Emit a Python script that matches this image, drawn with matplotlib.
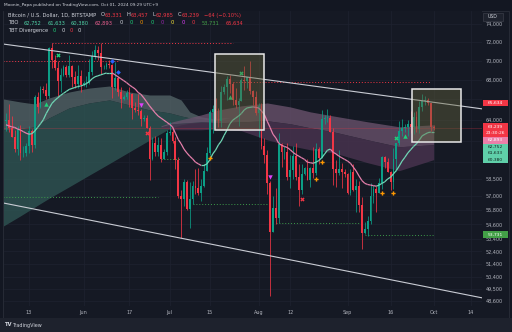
import numpy as np
import pandas as pd
import matplotlib
matplotlib.use("Agg")
import matplotlib.pyplot as plt
import matplotlib.dates as mdates
from matplotlib.collections import LineCollection
from matplotlib.patches import Rectangle
from matplotlib.ticker import FixedLocator, NullLocator, FuncFormatter

plt.rcParams['font.family'] = ['DejaVu Sans']

# ---------------- data (prices in thousands of USD) ----------------
K = 1000.0
dates = pd.date_range("2024-05-05", "2024-10-01", freq="D")

opens_k = [
    63.9, 64.0, 63.2, 62.3, 61.2, 63.1, 60.8, 60.8, 61.5, 62.9, 61.6, 66.2, 65.2, 67.0, 66.9, 66.3, 71.4, 70.1, 69.2, 67.9, 68.5, 69.3, 68.5, 69.4, 68.3, 67.6, 68.4,
    67.5, 67.7, 67.7, 68.8, 70.5, 71.1, 70.8, 69.3, 69.3, 69.6, 69.5, 67.3, 68.2, 66.7, 66.0, 66.2, 66.6, 66.5, 65.1, 64.9, 64.8, 64.1, 64.2, 63.2, 60.3, 61.8, 60.9, 61.6, 60.3, 60.9,
    62.7, 62.8, 62.0, 60.2, 57.0, 56.7, 58.2, 55.9, 56.7, 57.9, 57.7, 57.3, 57.9, 59.2, 60.8, 64.7, 65.0, 64.1, 63.9, 66.7, 67.2, 68.1, 67.6, 65.9, 65.4, 65.8, 68.0, 67.9, 68.3, 66.8, 66.2,
    64.6, 65.3, 61.5, 60.7, 58.1, 54.0, 56.0, 55.1, 61.7, 60.9, 60.9, 58.7, 59.3, 60.6, 58.7, 57.5, 58.9, 59.5, 58.4, 59.5, 59.0, 61.2, 60.4, 64.1, 64.2, 64.2, 62.8, 59.4, 59.0, 59.4, 59.1,
    58.9, 57.3, 59.1, 57.5, 57.9, 56.2, 53.9, 54.2, 54.9, 57.0, 57.6, 57.3, 58.1, 60.5, 60.0, 59.1, 58.2, 60.3, 61.8, 62.9, 63.2, 63.3, 63.6, 63.3, 64.3, 63.1, 65.2, 65.8, 65.9, 65.6,
    63.331]
highs_k = [
    64.6, 65.5, 64.4, 63.0, 63.4, 63.5, 61.5, 61.8, 63.4, 63.1, 66.4, 66.7, 67.4, 67.4, 67.7, 71.5, 71.9, 70.6, 70.0, 69.2, 69.5, 69.5, 70.6, 69.5, 68.9, 69.5, 69.0,
    67.9, 68.4, 70.2, 71.0, 71.7, 71.6, 71.9, 69.5, 69.9, 70.1, 69.6, 69.9, 68.4, 67.3, 66.4, 66.9, 67.2, 66.6, 65.7, 66.5, 65.0, 64.5, 64.5, 63.4, 62.3, 62.4, 62.3, 62.2, 61.2, 63.0,
    63.8, 63.2, 62.3, 60.5, 57.5, 58.5, 58.4, 58.2, 58.3, 59.4, 59.5, 58.5, 59.8, 61.4, 64.9, 65.4, 66.1, 65.1, 67.4, 67.6, 68.4, 68.5, 67.8, 67.1, 66.1, 68.2, 69.4, 68.3, 70.0, 66.9, 66.8,
    65.6, 65.6, 62.2, 61.1, 58.3, 57.0, 57.7, 62.7, 61.8, 61.5, 61.8, 60.7, 61.5, 61.8, 59.8, 59.8, 59.6, 60.3, 59.6, 61.4, 61.8, 61.4, 64.9, 64.5, 65.0, 64.5, 63.2, 60.2, 61.1, 59.9, 59.4,
    59.0, 59.4, 59.8, 58.5, 58.3, 56.9, 54.8, 55.3, 58.1, 58.0, 57.9, 58.6, 60.6, 60.6, 60.4, 59.2, 61.3, 61.8, 63.9, 64.1, 63.6, 64.0, 64.8, 64.7, 64.8, 65.8, 66.5, 66.3, 66.1, 65.6,
    63.457]
lows_k = [
    62.9, 62.8, 62.3, 60.9, 60.7, 60.2, 60.5, 60.6, 60.8, 60.9, 61.3, 64.6, 65.1, 66.6, 66.0, 66.1, 69.2, 69.0, 66.3, 66.7, 68.4, 68.3, 68.3, 67.3, 67.1, 67.1, 66.7,
    67.4, 67.3, 67.6, 68.5, 70.2, 70.1, 68.6, 69.1, 69.1, 69.2, 66.1, 66.9, 66.3, 65.1, 65.9, 66.0, 65.2, 64.1, 64.7, 64.5, 63.4, 63.9, 63.2, 58.4, 60.2, 60.6, 60.6, 60.0, 60.3, 60.7,
    62.5, 61.8, 59.4, 56.8, 53.5, 56.1, 55.8, 54.3, 56.3, 57.2, 57.1, 56.6, 57.8, 59.2, 60.7, 62.7, 64.0, 63.3, 63.3, 66.5, 65.9, 66.6, 65.4, 65.1, 63.4, 65.8, 66.9, 67.1, 66.5, 65.4, 64.5,
    62.3, 61.2, 59.9, 57.2, 49.0, 54.0, 54.6, 54.7, 59.6, 60.3, 58.4, 57.7, 58.5, 58.4, 56.1, 57.2, 58.8, 58.4, 57.8, 58.6, 58.8, 59.8, 60.4, 63.6, 63.8, 62.8, 58.0, 57.8, 58.8, 57.7, 58.7,
    57.2, 57.1, 57.4, 55.6, 55.6, 52.6, 53.8, 53.6, 54.6, 56.4, 55.6, 57.3, 57.6, 59.5, 59.1, 57.5, 57.6, 59.2, 61.6, 62.4, 62.8, 62.4, 62.7, 62.6, 62.8, 62.7, 64.8, 65.4, 65.4, 62.9,
    62.985]
closes_k = [
    64.0, 63.2, 62.3, 61.2, 63.1, 60.8, 60.8, 61.5, 62.9, 61.6, 66.2, 65.2, 67.0, 66.9, 66.3, 71.4, 70.1, 69.2, 67.9, 68.5, 69.3, 68.5, 69.4, 68.3, 67.6, 68.4, 67.5,
    67.7, 67.7, 68.8, 70.5, 71.1, 70.8, 69.3, 69.3, 69.6, 69.5, 67.3, 68.2, 66.7, 66.0, 66.2, 66.6, 66.5, 65.1, 64.9, 64.8, 64.1, 64.2, 63.2, 60.3, 61.8, 60.9, 61.6, 60.3, 60.9, 62.7,
    62.8, 62.0, 60.2, 57.0, 56.7, 58.2, 55.9, 56.7, 57.9, 57.7, 57.3, 57.9, 59.2, 60.8, 64.7, 65.0, 64.1, 63.9, 66.7, 67.2, 68.1, 67.6, 65.9, 65.4, 65.8, 68.0, 67.9, 68.3, 66.8, 66.2, 64.6,
    65.3, 61.5, 60.7, 58.1, 54.0, 56.0, 55.1, 61.7, 60.9, 60.9, 58.7, 59.3, 60.6, 58.7, 57.5, 58.9, 59.5, 58.4, 59.5, 59.0, 61.2, 60.4, 64.1, 64.2, 64.2, 62.8, 59.4, 59.0, 59.4, 59.1, 58.9,
    57.3, 59.1, 57.5, 57.9, 56.2, 53.9, 54.2, 54.9, 57.0, 57.6, 57.3, 58.1, 60.5, 60.0, 59.1, 58.2, 60.3, 61.8, 62.9, 63.2, 63.3, 63.6, 63.3, 64.3, 63.1, 65.2, 65.8, 65.9, 65.6, 63.3,
    63.239]

# TBO fast line (one value per candle)
tbo_fast_k = [
    63.5, 63.4, 63.3, 63.25, 63.1, 63.0, 62.85, 62.7,
    62.6, 62.65, 62.9, 63.25, 63.6, 64.0, 64.6, 65.1, 65.6, 65.9,
    66.15, 66.4, 66.6, 66.8, 67.0, 67.1, 67.2, 67.3, 67.35, 67.45,
    67.6, 67.8, 68.1, 68.3, 68.4, 68.5, 68.6, 68.7, 68.7, 68.7,
    68.5, 68.3, 68.1, 67.9, 67.7, 67.45, 67.25, 67.05, 66.7, 66.5,
    66.15, 65.75, 65.35, 65.0, 64.65, 64.35, 64.15, 63.95, 63.75, 63.55,
    63.3, 62.7, 62.1, 61.7, 61.2, 60.85, 60.55, 60.3, 60.0, 59.85,
    59.7, 59.7, 59.85, 60.2, 60.75, 61.1, 61.6, 61.95, 62.5, 63.0,
    63.6, 63.95, 64.15, 64.35, 64.6, 64.95, 65.15, 65.2, 65.25, 65.2,
    65.15, 64.85, 64.5, 63.85, 63.25, 62.6, 62.25, 61.75, 61.55, 61.45,
    61.35, 61.15, 60.9, 60.7, 60.55, 60.4, 60.25, 60.0, 59.95, 59.9,
    60.0, 60.15, 60.4, 60.75, 61.1, 61.2, 60.9, 60.75, 60.55, 60.4,
    60.25, 60.1, 59.9, 59.55, 59.2, 58.75, 58.35, 58.1, 58.0, 57.95,
    57.9, 57.85, 57.95, 58.1, 58.25, 58.5, 58.65, 58.95, 59.25, 59.65,
    60.1, 60.45, 60.85, 61.15, 61.45, 61.7, 62.05, 62.45, 62.6, 62.75,
    62.8, 62.8]

# TBO cloud (bullish, grey-teal)
bull_dates = ["2024-05-04", "2024-05-10", "2024-05-15", "2024-05-20", "2024-05-27", "2024-06-03", "2024-06-10",
              "2024-06-17", "2024-06-24", "2024-07-01", "2024-07-05", "2024-07-08", "2024-07-12", "2024-07-16",
              "2024-07-22"]
bull_top_k = [66.04, 65.74, 65.54, 66.14, 66.74, 67.14, 67.35, 66.74, 66.44, 66.44, 65.94, 64.76, 64.27, 64.10, 64.20]
bull_mid_k = [63.02, 63.10, 63.30, 64.17, 65.15, 65.64, 65.94, 65.44, 64.95, 64.66, 64.36, 64.17, 64.07, 63.90, 64.20]
bull_bot_k = [54.45, 55.30, 56.05, 56.80, 57.80, 58.83, 59.87, 60.95, 62.04, 63.14, 63.50, 63.65, 63.75, 63.80, 64.20]

# TBO cloud (bearish, mauve)
bear_dates = ["2024-06-28", "2024-07-02", "2024-07-12", "2024-07-18", "2024-07-26", "2024-08-04",
              "2024-08-12", "2024-08-19", "2024-08-27", "2024-09-08", "2024-09-19", "2024-10-01"]
bear_top_k = [63.40, 63.79, 64.46, 64.95, 65.35, 65.64, 65.25, 64.76, 64.36, 63.79, 63.31, 63.50]
bear_mid_k = [63.31, 63.60, 63.79, 63.69, 63.79, 63.89, 63.60, 63.21, 62.83, 62.07, 61.42, 61.61]
bear_bot_k = [63.21, 63.02, 63.02, 63.12, 62.93, 62.07, 61.52, 61.14, 60.87, 59.95, 59.23, 60.23]

# dotted support / resistance levels
level_prices_k = [71.9, 70.0, 67.76, 56.94, 60.32, 56.3, 54.75, 53.731]
level_starts = ["2024-05-21", "2024-05-04", "2024-07-23", "2024-05-04", "2024-06-28", "2024-07-09", "2024-08-07", "2024-09-07"]
level_ends = ["2024-07-23", "2024-06-13", "2024-09-30", "2024-06-27", "2024-07-05", "2024-08-04", "2024-09-05", "2024-10-01"]
level_kinds = ["res", "res", "res", "sup", "sup", "sup", "sup", "sup"]

# drawn channel
channel_dates = ["2024-05-04", "2024-10-18"]
channel_upper_k = [71.78, 65.05]
channel_lower_k = [56.40, 48.83]

# highlighted boxes
box_starts = ["2024-07-16 19:00", "2024-09-23 10:00"]
box_ends = ["2024-08-02 22:00", "2024-10-10 12:00"]
box_tops_k = [70.70, 67.05]
box_bottoms_k = [63.02, 61.86]

# signals
sig_up_dates = ["2024-05-19", "2024-07-22", "2024-09-21"]
sig_up_k = [65.54, 66.24, 62.45]
sig_gx_dates = ["2024-05-23", "2024-07-26", "2024-09-18"]
sig_gx_k = [70.6, 68.69, 62.26]
sig_blue_dates = ["2024-06-11", "2024-06-13"]
sig_blue_k = [69.96, 68.8]
sig_down_dates = ["2024-06-21", "2024-08-05"]
sig_down_k = [65.44, 58.66]
sig_rx_dates = ["2024-06-23", "2024-08-16"]
sig_rx_k = [62.71, 56.76]
sig_or_dates = ["2024-07-15", "2024-08-21", "2024-08-23", "2024-09-13", "2024-09-17"]
sig_or_k = [60.41, 58.53, 60.01, 57.25, 57.25]

last_price = 63239
price_ticks = [74000, 72000, 70000, 68000, 66000, 64000, 62000, 60000, 58500, 57000,
               55800, 54600, 53400, 52400, 51400, 50400, 49500, 48600]
covered_ticks = [66000, 62000, 60000]   # hidden behind the value labels
date_ticks = ["2024-05-13", "2024-06-01", "2024-06-17", "2024-07-01", "2024-07-15", "2024-08-01",
              "2024-08-12", "2024-09-01", "2024-09-16", "2024-10-01", "2024-10-14"]
date_labels = ["13", "Jun", "17", "Jul", "15", "Aug", "12", "Sep", "16", "Oct", "14"]

# ---------------- style ----------------
BG = "#151924"
UPC, DNC = "#0c9e86", "#f23645"
TEAL, PINK = "#6fd6b5", "#e57fab"
TXT = "#b2b5be"
W, H = 512, 332

def dn(s):
    return mdates.date2num(pd.to_datetime(s))

fig = plt.figure(figsize=(W / 100, H / 100), dpi=100)
fig.patch.set_facecolor("#131722")
fig.add_artist(Rectangle((3 / W, 1 - 318 / H), 506 / W, 307 / H, transform=fig.transFigure,
                         facecolor=BG, edgecolor="#2a2e39", lw=0.6, zorder=-5))
fig.add_artist(Rectangle((0, 0), 1, 14 / H, transform=fig.transFigure,
                         facecolor="#1e222d", edgecolor="none", zorder=-4))

ax = fig.add_axes([4 / W, 1 - 306 / H, 478 / W, 295 / H])
ax.set_facecolor(BG)
ax.set_yscale("log")
base = dn("2024-05-13")
ax.set_xlim(base - 8.711, base + 157.84)
ax.set_ylim(48235, 75470)
for s in ax.spines.values():
    s.set_visible(False)

ax.yaxis.tick_right()
ax.yaxis.set_major_locator(FixedLocator(price_ticks))
ax.yaxis.set_minor_locator(NullLocator())
ax.yaxis.set_major_formatter(FuncFormatter(lambda v, _: "" if round(v) in covered_ticks else f"{v:,.0f}"))
ax.set_xticks([dn(d) for d in date_ticks])
ax.set_xticklabels(date_labels)
ax.tick_params(axis="y", length=0, pad=2.5, labelsize=3.5, labelcolor=TXT)
ax.tick_params(axis="x", length=0, pad=3.2, labelsize=3.5, labelcolor=TXT)
ax.grid(True, color="#1e2330", lw=0.5, zorder=0)
ax.set_axisbelow(True)

x = mdates.date2num(dates)
o = np.array(opens_k) * K
h = np.array(highs_k) * K
l = np.array(lows_k) * K
c = np.array(closes_k) * K

# cloud
bx = [dn(d) for d in bull_dates]
ax.fill_between(bx, np.array(bull_mid_k) * K, np.array(bull_top_k) * K, color="#56686a", alpha=0.75, lw=0, zorder=1)
ax.fill_between(bx, np.array(bull_bot_k) * K, np.array(bull_mid_k) * K, color="#2f5553", alpha=0.8, lw=0, zorder=1)
px = [dn(d) for d in bear_dates]
ax.fill_between(px, np.array(bear_mid_k) * K, np.array(bear_top_k) * K, color="#6e5470", alpha=0.75, lw=0, zorder=1.1)
ax.fill_between(px, np.array(bear_bot_k) * K, np.array(bear_mid_k) * K, color="#4a3450", alpha=0.8, lw=0, zorder=1.1)

# levels
for p, s0, s1, kd in zip(level_prices_k, level_starts, level_ends, level_kinds):
    ax.plot([dn(s0), dn(s1)], [p * K, p * K], color=DNC if kd == "res" else "#3d9a4a",
            lw=0.7, ls=(0, (1, 2)), zorder=2)
ax.axhline(last_price, color=DNC, lw=0.5, alpha=0.35, zorder=2)

# candles
col = np.where(c >= o, UPC, DNC).tolist()
ax.vlines(x, l, h, colors=col, lw=0.55, zorder=3)
lo_b = np.minimum(o, c)
hi_b = np.maximum(o, c)
ax.bar(x, np.maximum(hi_b - lo_b, 60), bottom=lo_b, width=0.62, color=col, lw=0, zorder=3.1)

# fast line
ma = np.array(tbo_fast_k) * K
pts = np.column_stack([x, ma])
segs = np.stack([pts[:-1], pts[1:]], axis=1)
mcol = np.where(np.diff(ma) >= 0, TEAL, PINK).tolist()
ax.add_collection(LineCollection(segs, colors=mcol, linewidths=0.9, zorder=4))

# channel
cx = [dn(d) for d in channel_dates]
ax.plot(cx, np.array(channel_upper_k) * K, color="#c9ccd4", lw=0.8, zorder=5)
ax.plot(cx, np.array(channel_lower_k) * K, color="#c9ccd4", lw=0.8, zorder=5)

# signals
def sig(ds, vs, m, colr, ms):
    ax.plot([dn(d) for d in ds], np.array(vs) * K, ls="none", marker=m, color=colr, ms=ms, mew=0, zorder=5)
sig(sig_up_dates, sig_up_k, "^", "#1fd17a", 3.2)
sig(sig_gx_dates, sig_gx_k, "X", "#1fd17a", 3.0)
sig(sig_blue_dates, sig_blue_k, "D", "#2962ff", 2.4)
sig(sig_down_dates, sig_down_k, "v", "#e040fb", 3.2)
sig(sig_rx_dates, sig_rx_k, "X", "#f23645", 3.0)
sig(sig_or_dates, sig_or_k, "P", "#ff9800", 3.0)

# boxes
for s0, s1, t, b in zip(box_starts, box_ends, box_tops_k, box_bottoms_k):
    ax.add_patch(Rectangle((dn(s0), b * K), dn(s1) - dn(s0), (t - b) * K,
                           facecolor="#64643c", alpha=0.42, edgecolor="none", zorder=6))
    ax.add_patch(Rectangle((dn(s0), b * K), dn(s1) - dn(s0), (t - b) * K,
                           facecolor="none", edgecolor="#e8e8e8", lw=1.1, zorder=6.1))

# ---------------- price-axis labels ----------------
def plabel(yc, text, fc, tc, hgt=6.6):
    fig.add_artist(Rectangle((483 / W, 1 - (yc + hgt / 2) / H), 25 / W, hgt / H, transform=fig.transFigure,
                             facecolor=fc, edgecolor="none", zorder=8))
    fig.text(495.5 / W, 1 - yc / H, text, color=tc, fontsize=3.2, ha="center", va="center", zorder=9)

fig.add_artist(Rectangle((483 / W, 1 - 21 / H), 20 / W, 8.5 / H, transform=fig.transFigure,
                         facecolor="#1e222d", edgecolor="#434651", lw=0.4, zorder=8))
fig.text(493 / W, 1 - 16.7 / H, "USD", color="#d1d4dc", fontsize=3.3, ha="center", va="center", zorder=9)
plabel(103, "65,634", "#f23645", "white")
fig.add_artist(Rectangle((483 / W, 1 - 137 / H), 25 / W, 14 / H, transform=fig.transFigure,
                         facecolor="#f23645", edgecolor="none", zorder=8))
fig.text(495.5 / W, 1 - 126.6 / H, "63,239", color="white", fontsize=3.2, ha="center", va="center", zorder=9)
fig.text(495.5 / W, 1 - 133.2 / H, "23:30:26", color="white", fontsize=3.2, ha="center", va="center", zorder=9)
plabel(140.3, "62,893", "#ec7fa9", "white")
plabel(146.9, "62,752", "#5fcfa9", "#10231e")
plabel(153.5, "61,633", "#5fcfa9", "#10231e")
plabel(160.1, "60,380", "#5fcfa9", "#10231e")
plabel(234.5, "53,731", "#43a047", "white")

# ---------------- header / legend ----------------
FS = 3.7
fig.text(4 / W, 1 - 5 / H, "Moonin_Papa published on TradingView.com, Oct 01, 2024 09:29 UTC+9",
         color="#d1d4dc", fontsize=3.1, ha="left", va="center")

def chain(x0, y0, parts):
    t = fig.text(x0 / W, 1 - y0 / H, parts[0][0], color=parts[0][1], fontsize=FS, ha="left", va="center", zorder=9)
    for s, cl, g in parts[1:]:
        t = ax.annotate(s, xy=(1, 0.5), xycoords=t, xytext=(g, 0), textcoords="offset points",
                        color=cl, fontsize=FS, ha="left", va="center", annotation_clip=False, zorder=9)

G = "#d1d4dc"
R = "#f23645"
chain(8, 15, [("Bitcoin / U.S. Dollar, 1D, BITSTAMP", G), ("O", G, 3.0), ("63,331", R, 0.3), ("H", G, 3.0),
              ("63,457", R, 0.3), ("L", G, 3.0), ("62,985", R, 0.3), ("C", G, 3.0), ("63,239", R, 0.3),
              ("−64 (−0.10%)", R, 3.0)])
chain(8, 23, [("TBO", G), ("62,752", "#4fd1a5", 4.0), ("61,633", "#4fd1a5", 4.0), ("60,380", "#4fd1a5", 4.0),
              ("62,893", "#ec5f8f", 4.0), ("0", G, 5.0), ("0", "#1fd17a", 5.0), ("0", "#ff9800", 5.0),
              ("0", "#1fd17a", 5.0), ("0", "#9c27b0", 5.0), ("0", "#ffeb3b", 5.0), ("0", "#e040fb", 5.0),
              ("0", R, 5.0), ("53,731", "#43a047", 5.0), ("65,634", R, 4.0)])
chain(8, 30.5, [("TBT Divergence", G), ("0", "#1fd17a", 3.5), ("0", G, 3.5), ("0", R, 3.5), ("0", G, 3.5)])

# footer logo
fig.text(4 / W, 1 - 325 / H, "TV", color="#d1d4dc", fontsize=3.8, fontweight="bold", ha="left", va="center")
fig.text(12 / W, 1 - 325 / H, "TradingView", color="#d1d4dc", fontsize=3.5, ha="left", va="center")

fig.savefig("out.png", dpi=100, facecolor=fig.get_facecolor())
